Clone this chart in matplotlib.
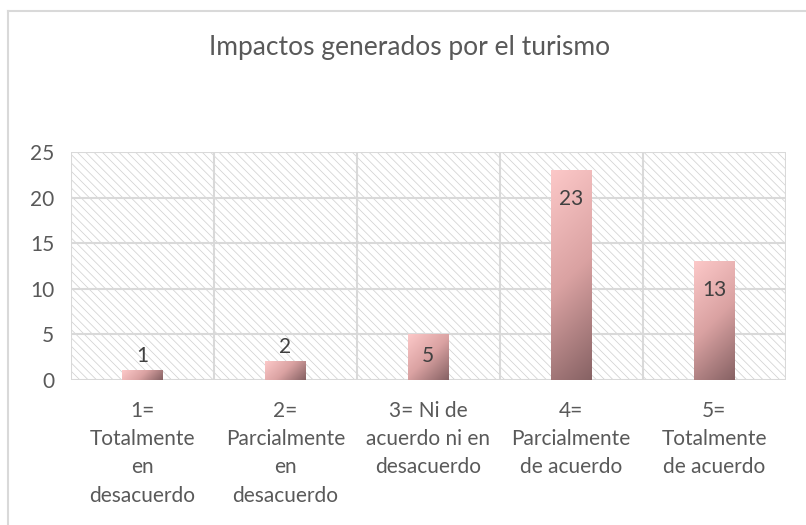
import numpy as np
import matplotlib
matplotlib.use("Agg")
import matplotlib.pyplot as plt
from matplotlib.patches import Rectangle
from matplotlib.lines import Line2D

categories = ["1=\nTotalmente\nen\ndesacuerdo",
              "2=\nParcialmente\nen\ndesacuerdo",
              "3= Ni de\nacuerdo ni en\ndesacuerdo",
              "4=\nParcialmente\nde acuerdo",
              "5=\nTotalmente\nde acuerdo"]
values = [1, 2, 5, 23, 13]
yticks = [0, 5, 10, 15, 20, 25]
title = "Impactos generados por el turismo"

plt.rcParams['font.family'] = ['Lato', 'DejaVu Sans']
plt.rcParams['hatch.linewidth'] = 0.55
plt.rcParams['hatch.color'] = '#D2D2D2'
TXT = '#595959'
GRID = '#D9D9D9'

W, H = 806, 525
fig = plt.figure(figsize=(W / 100, H / 100), dpi=100)
ax = fig.add_axes([71 / W, 1 - 380 / H, (785.5 - 71) / W, (380 - 152) / H])

n = len(categories)
x = np.arange(n)
ax.set_xlim(-0.5, n - 0.5)
ax.set_ylim(0, 25)

# hatched background
ax.add_patch(Rectangle((0, 0), 1, 1, transform=ax.transAxes, facecolor='white',
                       edgecolor='#D2D2D2', hatch='\\\\\\\\', linewidth=0, zorder=0))
# grid
for yv in yticks:
    ax.axhline(yv, color=GRID, lw=1.5, zorder=1)
for b in np.arange(-0.5, n, 1.0):
    ax.axvline(b, color=GRID, lw=1.5, zorder=1)

for s in ax.spines.values():
    s.set_visible(False)

ax.set_yticks(yticks)
ax.set_yticklabels([str(v) for v in yticks], fontsize=15, color=TXT)
ax.set_xticks(x)
ax.set_xticklabels(categories, fontsize=15, color=TXT, linespacing=1.52, va='top')
ax.tick_params(axis='both', length=0)
ax.tick_params(axis='y', pad=12)
ax.tick_params(axis='x', pad=15)

# gradient bars
bw = 0.28
c0 = np.array([252, 200, 200]) / 255
c1 = np.array([218, 162, 162]) / 255
c2 = np.array([135, 98, 100]) / 255
fig.canvas.draw()
pxw = ax.transData.transform((bw, 0))[0] - ax.transData.transform((0, 0))[0]
for xi, v in zip(x, values):
    pxh = ax.transData.transform((0, v))[1] - ax.transData.transform((0, 0))[1]
    rows = max(2, int(round(pxh)))
    cols = max(2, int(round(pxw)))
    yy, xx = np.mgrid[0:rows, 0:cols]
    t = (xx / (cols - 1) * pxw + yy / (rows - 1) * pxh) / (pxw + pxh)
    img = np.where(t[..., None] < 0.5,
                   c0 + (c1 - c0) * (t[..., None] / 0.5),
                   c1 + (c2 - c1) * ((t[..., None] - 0.5) / 0.5))
    ax.imshow(img, extent=(xi - bw / 2, xi + bw / 2, 0, v), origin='upper',
              aspect='auto', interpolation='bilinear', zorder=2)
    if v >= 5:
        ax.annotate(str(v), (xi, v), xytext=(0, -12 if v < 10 else -19),
                    textcoords='offset pixels', ha='center', va='top',
                    fontsize=15, color='#404040', zorder=3)
    else:
        ax.annotate(str(v), (xi, v), xytext=(0, 5), textcoords='offset pixels',
                    ha='center', va='bottom', fontsize=15, color='#404040', zorder=3)
ax.set_xlim(-0.5, n - 0.5)
ax.set_ylim(0, 25)

fig.text(410 / W, 1 - 48 / H, title, ha='center', va='center', fontsize=19, color=TXT)

# chart border (top and left visible)
fig.add_artist(Line2D([8 / W, 1], [1 - 11 / H, 1 - 11 / H], transform=fig.transFigure,
                      color=GRID, lw=1.5))
fig.add_artist(Line2D([8 / W, 8 / W], [1 - 11 / H, 0], transform=fig.transFigure,
                      color=GRID, lw=1.5))

fig.savefig("out.png", dpi=100)
